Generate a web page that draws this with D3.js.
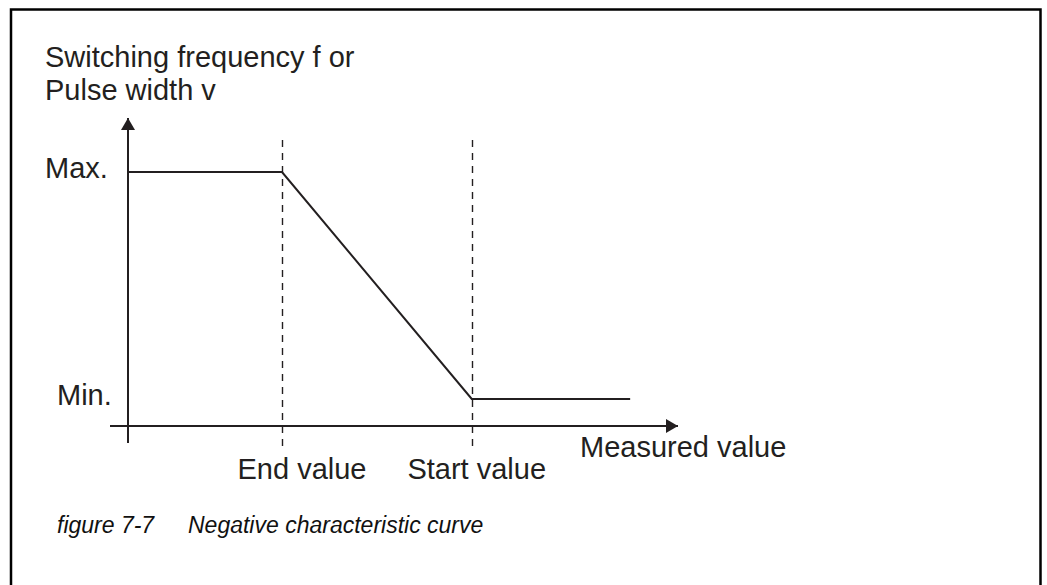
<!DOCTYPE html>
<html>
<head>
<meta charset="utf-8">
<script src="https://cdn.jsdelivr.net/npm/d3@7"></script>
<style>
  html, body { margin: 0; padding: 0; background: #fff; }
  text { font-family: "Liberation Sans", Arial, sans-serif; fill: #231f20; }
</style>
</head>
<body>
<div id="chart"></div>
<script>
// curve points (x in arbitrary units, y: 0 = Min., 1 = Max.)
var curve_x = [0, 28, 62.5, 91.3];
var curve_y = [1, 1, 0, 0];

// marked x positions with their labels
var mark_x = [28, 62.5];
var mark_labels = ['End value', 'Start value'];

var level_values = [1, 0];
var level_labels = ['Max.', 'Min.'];

var y_title = ['Switching frequency f or', 'Pulse width v'];
var x_title = 'Measured value';
var caption_num = 'figure 7-7';
var caption_text = 'Negative characteristic curve';

var width = 1047;
var height = 585;

var svg = d3.select('#chart')
			.append('svg')
			.attr('width', width)
			.attr('height', height);

// frame (open at the bottom)
svg.append('path')
   .attr('d', 'M11,585 L11,9.5 L1040.5,9.5 L1040.5,585')
   .attr('fill', 'none')
   .attr('stroke', '#000')
   .attr('stroke-width', 2.5);

// Scales
var x_scale = d3.scaleLinear()
				.domain([0, 100])
				.range([128, 678]);
var y_scale = d3.scaleLinear()
				.domain([0, 1])
				.range([399, 172]);

var x0 = x_scale(0);
var axis_y = 426;

// arrowhead marker
svg.append('defs').append('marker')
   .attr('id', 'arrow')
   .attr('viewBox', '0 0 12 14')
   .attr('refX', 12)
   .attr('refY', 7)
   .attr('markerWidth', 12)
   .attr('markerHeight', 14)
   .attr('markerUnits', 'userSpaceOnUse')
   .attr('orient', 'auto')
   .append('path')
   .attr('d', 'M0,0 L12,7 L0,14 Z')
   .attr('fill', '#231f20');

// y axis
svg.append('line')
   .attr('x1', x0).attr('y1', 443)
   .attr('x2', x0).attr('y2', 118)
   .attr('stroke', '#231f20')
   .attr('stroke-width', 2)
   .attr('marker-end', 'url(#arrow)');

// x axis
svg.append('line')
   .attr('x1', 110).attr('y1', axis_y)
   .attr('x2', x_scale(100)).attr('y2', axis_y)
   .attr('stroke', '#231f20')
   .attr('stroke-width', 2)
   .attr('marker-end', 'url(#arrow)');

// dashed guides
svg.selectAll('line.guide')
   .data(mark_x)
   .enter()
   .append('line')
   .attr('class', 'guide')
   .attr('x1', function(d){ return Math.round(x_scale(d)) + 0.5; })
   .attr('x2', function(d){ return Math.round(x_scale(d)) + 0.5; })
   .attr('y1', 140)
   .attr('y2', 451)
   .attr('stroke', '#231f20')
   .attr('stroke-width', 1.4)
   .attr('stroke-dasharray', '7,6');

// curve
var line = d3.line()
			 .x(function(d, i){ return x_scale(curve_x[i]); })
			 .y(function(d){ return y_scale(d); });

svg.append('path')
   .attr('d', line(curve_y))
   .attr('fill', 'none')
   .attr('stroke', '#231f20')
   .attr('stroke-width', 2);

// level labels
var level_x = [45, 57];
svg.selectAll('text.level')
   .data(level_values)
   .enter()
   .append('text')
   .attr('class', 'level')
   .attr('x', function(d, i){ return level_x[i]; })
   .attr('y', function(d){ return y_scale(d) + 6; })
   .attr('font-size', 29)
   .text(function(d, i){ return level_labels[i]; });

// mark labels
var mark_dx = [20, 5];
svg.selectAll('text.mark')
   .data(mark_x)
   .enter()
   .append('text')
   .attr('class', 'mark')
   .attr('x', function(d, i){ return x_scale(d) + mark_dx[i]; })
   .attr('y', 479)
   .attr('text-anchor', 'middle')
   .attr('font-size', 29)
   .text(function(d, i){ return mark_labels[i]; });

// axis titles
svg.selectAll('text.ytitle')
   .data(y_title)
   .enter()
   .append('text')
   .attr('class', 'ytitle')
   .attr('x', 45)
   .attr('y', function(d, i){ return 67 + i * 33; })
   .attr('font-size', 29)
   .text(function(d){ return d; });

svg.append('text')
   .attr('x', 580)
   .attr('y', 457)
   .attr('font-size', 29)
   .text(x_title);

// caption
svg.append('text')
   .attr('x', 57)
   .attr('y', 533)
   .attr('font-size', 23)
   .attr('font-style', 'italic')
   .style('fill', '#111')
   .text(caption_num);

svg.append('text')
   .attr('x', 188)
   .attr('y', 533)
   .attr('font-size', 23)
   .attr('font-style', 'italic')
   .style('fill', '#111')
   .text(caption_text);
</script>
</body>
</html>
